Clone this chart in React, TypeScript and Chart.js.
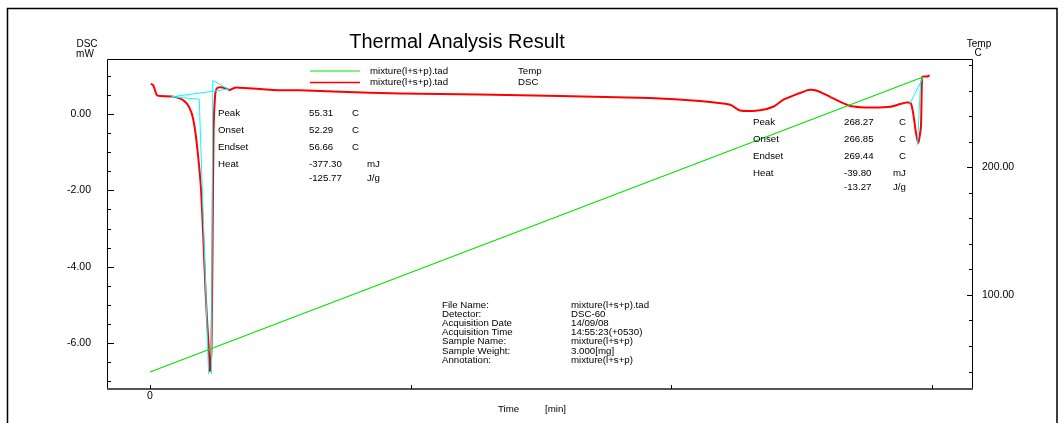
import { useEffect, useRef } from "react";
import { Chart, registerables } from "chart.js";

Chart.register(...registerables);

// ---- data (time in min, DSC in mW, temperature in C) ----
const dscTime = [
  0.03, 0.12, 0.26, 0.38, 0.83, 1.15, 1.41, 1.6, 1.73, 1.85, 1.96, 2.05, 2.13, 2.19, 2.25, 2.3,
  2.36, 2.4, 2.44, 2.5, 2.56, 2.69, 2.92, 3.07, 3.26, 3.45, 4.72, 5.76, 7.29, 9.6, 12.67, 15.74,
  19.19, 21.11, 22.27, 22.65, 23.42, 23.92, 24.3, 24.76, 25.07, 25.26, 25.6, 26.1, 26.49, 26.87,
  27.26, 27.75, 28.41, 28.79, 29.05, 29.2, 29.29, 29.4, 29.49, 29.59, 29.62, 29.65, 29.82, 29.92,
];
const dscValues = [
  0.79, 0.76, 0.5, 0.47, 0.46, 0.41, 0.28, 0.02, -0.42, -1.12, -1.99, -3.3, -4.61, -5.4, -6.06, -6.73,
  -6.18, -3.56, -0.42, 0.5, 0.67, 0.7, 0.67, 0.63, 0.69, 0.69, 0.63, 0.62, 0.58, 0.54, 0.51, 0.47,
  0.42, 0.34, 0.24, 0.09, 0.1, 0.19, 0.37, 0.5, 0.58, 0.63, 0.61, 0.45, 0.32, 0.21,
  0.18, 0.17, 0.19, 0.26, 0.3, 0.28, 0.03, -0.5, -0.75, -0.33, 0.63, 0.98, 0.98, 1.01,
];
const tempTime = [0, 29.67];
const tempValues = [39.6, 270.6];
// analysis construction lines (null = break)
const cyanTime = [3.01, 0.83, 1.89, 2.25, 2.3, 2.36, 2.41, 3.01, 29.3, 29.17, 29.66, 29.6, 29.58, 29.46];
const cyanValues = [0.65, 0.45, 0.39, -6.81, null, -6.81, 0.88, 0.65, null, 0.28, 0.94, null, 0.9, -0.81];

const xTicks = [0];
const dscTickLabels = [0, -2, -4, -6];
const tempTickLabels = [100, 200];

const legendRows = [
  { color: "rgb(0,230,0)", file: "mixture(l+s+p).tad", name: "Temp" },
  { color: "rgb(255,0,0)", file: "mixture(l+s+p).tad", name: "DSC" },
];
const peak1 = [
  ["Peak", "55.31", "C"],
  ["Onset", "52.29", "C"],
  ["Endset", "56.66", "C"],
  ["Heat", "-377.30", "mJ"],
  ["", "-125.77", "J/g"],
];
const peak2 = [
  ["Peak", "268.27", "C"],
  ["Onset", "266.85", "C"],
  ["Endset", "269.44", "C"],
  ["Heat", "-39.80", "mJ"],
  ["", "-13.27", "J/g"],
];
const fileInfo = [
  ["File Name:", "mixture(l+s+p).tad"],
  ["Detector:", "DSC-60"],
  ["Acquisition Date", "14/09/08"],
  ["Acquisition Time", "14:55:23(+0530)"],
  ["Sample Name:", "mixture(l+s+p)"],
  ["Sample Weight:", "3.000[mg]"],
  ["Annotation:", "mixture(l+s+p)"],
];

const FONT = "'Liberation Sans', Arial, sans-serif";

const decorPlugin = {
  id: "decor",
  afterDraw(chart: any) {
    const ctx = chart.ctx as CanvasRenderingContext2D;
    const a = chart.chartArea;
    ctx.save();
    // outer border
    ctx.strokeStyle = "#000";
    ctx.lineWidth = 1.5;
    ctx.beginPath();
    ctx.moveTo(7.5, 440);
    ctx.lineTo(7.5, 8.5);
    ctx.lineTo(1057, 8.5);
    ctx.lineTo(1057, 440);
    ctx.stroke();
    // frame
    ctx.lineWidth = 1;
    ctx.beginPath();
    ctx.moveTo(a.left + 0.5, a.bottom);
    ctx.lineTo(a.left + 0.5, a.top + 0.5);
    ctx.lineTo(a.right + 0.5, a.top + 0.5);
    ctx.lineTo(a.right + 0.5, a.bottom);
    ctx.stroke();
    ctx.strokeStyle = "#555";
    ctx.lineWidth = 2;
    ctx.beginPath();
    ctx.moveTo(a.left, a.bottom);
    ctx.lineTo(a.right + 1, a.bottom);
    ctx.stroke();
    // inward tick marks
    ctx.strokeStyle = "#000";
    ctx.lineWidth = 1;
    const sx = chart.scales.x, sy = chart.scales.y, sy1 = chart.scales.y1;
    ctx.beginPath();
    sy.ticks.forEach((t: any) => {
      const p = Math.round(sy.getPixelForValue(t.value)) + 0.5;
      const len = Math.abs(t.value % 2) < 1e-9 ? 7 : 4;
      ctx.moveTo(a.left, p);
      ctx.lineTo(a.left + len, p);
    });
    sy1.ticks.forEach((t: any) => {
      const p = Math.round(sy1.getPixelForValue(t.value)) + 0.5;
      const len = t.value % 100 === 0 ? 6 : 4;
      ctx.moveTo(a.right + 1, p);
      ctx.lineTo(a.right + 1 - len, p);
    });
    sx.ticks.forEach((t: any) => {
      const p = Math.round(sx.getPixelForValue(t.value)) + 0.5;
      ctx.moveTo(p, a.bottom);
      ctx.lineTo(p, a.bottom - 4);
    });
    ctx.stroke();

    ctx.fillStyle = "#000";
    ctx.textBaseline = "middle";
    // title
    ctx.font = `20px ${FONT}`;
    ctx.textAlign = "center";
    ctx.fillText("Thermal Analysis Result", 457, 42);
    // axis units
    ctx.font = `10px ${FONT}`;
    ctx.fillText("DSC", 87, 44);
    ctx.fillText("mW", 85, 54);
    ctx.fillText("Temp", 979, 44);
    ctx.fillText("C", 978, 53);
    // legend
    ctx.textAlign = "left";
    ctx.font = `9.7px ${FONT}`;
    legendRows.forEach((r, i) => {
      const y = 71 + i * 11.5;
      ctx.strokeStyle = r.color;
      ctx.lineWidth = i === 1 ? 1.5 : 1.2;
      ctx.beginPath();
      ctx.moveTo(310, y);
      ctx.lineTo(360, y);
      ctx.stroke();
      ctx.fillText(r.file, 370, y);
      ctx.fillText(r.name, 518, y);
    });
    // peak annotations
    const drawPeak = (rows: string[][], x0: number, x1: number, x2: number, x2u: number, y0: number) => {
      rows.forEach((r, i) => {
        const y = i < 4 ? y0 + i * 16.8 : y0 + 3 * 16.8 + 14.6;
        ctx.fillText(r[0], x0, y);
        ctx.fillText(r[1], x1, y);
        ctx.fillText(r[2], i < 3 ? x2 : x2u, y);
      });
    };
    drawPeak(peak1, 218, 309, 352, 367, 113.5);
    drawPeak(peak2, 753, 844, 899, 893, 122.5);
    // file info
    fileInfo.forEach((r, i) => {
      const y = 305 + i * 9.2;
      ctx.fillText(r[0], 442, y);
      ctx.fillText(r[1], 571, y);
    });
    // x axis title
    ctx.fillText("Time", 498, 409);
    ctx.fillText("[min]", 545, 409);
    ctx.restore();
  },
};

export default function App() {
  const ref = useRef<HTMLCanvasElement | null>(null);
  useEffect(() => {
    if (!ref.current) return;
    const tickFont = { family: FONT, size: 10.5 };
    const chart = new Chart(ref.current, {
      type: "line",
      data: {
        datasets: [
          {
            label: "Temp",
            data: tempTime.map((t, i) => ({ x: t, y: tempValues[i] })),
            yAxisID: "y1",
            borderColor: "rgb(0,230,0)",
            borderWidth: 1.2,
            pointRadius: 0,
          },
          {
            label: "Analysis",
            data: cyanTime.map((t, i) => ({ x: t, y: cyanValues[i] })),
            yAxisID: "y",
            borderColor: "rgb(0,255,255)",
            borderWidth: 1,
            pointRadius: 0,
            spanGaps: false,
          },
          {
            label: "DSC",
            data: dscTime.map((t, i) => ({ x: t, y: dscValues[i] })),
            yAxisID: "y",
            borderColor: "rgb(255,0,0)",
            borderWidth: 2,
            pointRadius: 0,
            tension: 0.2,
          },
        ],
      },
      options: {
        animation: false,
        responsive: false,
        events: [],
        layout: { padding: { top: 59, left: 0, right: 0, bottom: 0 } },
        plugins: { legend: { display: false }, tooltip: { enabled: false }, title: { display: false } },
        scales: {
          x: {
            type: "linear",
            min: -1.65,
            max: 31.55,
            grid: { display: false, drawTicks: false },
            border: { display: false },
            ticks: {
              stepSize: 10,
              includeBounds: false,
              autoSkip: false,
              maxRotation: 0,
              padding: 1,
              color: "#000",
              font: tickFont,
              callback: (v: any) => (xTicks.includes(Number(v)) ? String(v) : ""),
            },
            afterFit: (s: any) => {
              s.height = 34;
            },
          },
          y: {
            type: "linear",
            position: "left",
            min: -7.205,
            max: 1.441,
            grid: { display: false, drawTicks: false },
            border: { display: false },
            ticks: {
              stepSize: 0.5,
              includeBounds: false,
              autoSkip: false,
              padding: 16,
              color: "#000",
              font: tickFont,
              callback: (v: any) => (dscTickLabels.some((d) => Math.abs(d - Number(v)) < 1e-6) ? Number(v).toFixed(2) : ""),
            },
            afterFit: (s: any) => {
              s.width = 107;
            },
          },
          y1: {
            type: "linear",
            position: "right",
            min: 26.3,
            max: 284.7,
            grid: { display: false, drawTicks: false },
            border: { display: false },
            ticks: {
              stepSize: 20,
              includeBounds: false,
              autoSkip: false,
              padding: 10,
              color: "#000",
              font: tickFont,
              callback: (v: any) => (tempTickLabels.includes(Number(v)) ? Number(v).toFixed(2) : ""),
            },
            afterFit: (s: any) => {
              s.width = 92;
            },
          },
        },
      },
      plugins: [decorPlugin],
    });
    return () => chart.destroy();
  }, []);
  return (
    <div style={{ position: "absolute", left: 0, top: 0, width: 1064, height: 423, background: "#fff" }}>
      <canvas ref={ref} width={1064} height={423} style={{ display: "block", width: 1064, height: 423 }} />
    </div>
  );
}
